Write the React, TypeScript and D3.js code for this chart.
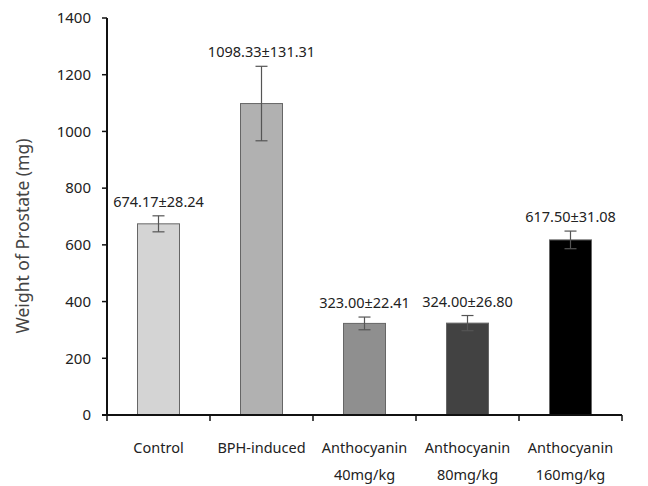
import React from "react";
import * as d3 from "d3";

const categories = ["Control", "BPH-induced", "Anthocyanin\n40mg/kg", "Anthocyanin\n80mg/kg", "Anthocyanin\n160mg/kg"];
const means = [674.17, 1098.33, 323.0, 324.0, 617.5];
const errors = [28.24, 131.31, 22.41, 26.8, 31.08];
const labels = ["674.17±28.24", "1098.33±131.31", "323.00±22.41", "324.00±26.80", "617.50±31.08"];
const fills = ["#d4d4d4", "#b1b1b1", "#8f8f8f", "#424242", "#000000"];
const yTicks = [0, 200, 400, 600, 800, 1000, 1200, 1400];

const W = 648, H = 486;
const left = 107, right = 622, top = 18, bottom = 415;
const font = "'Noto Sans', 'DejaVu Sans', sans-serif";

export default function App() {
  const x = d3.scaleBand<string>().domain(categories).range([left, right]).paddingInner(0).paddingOuter(0);
  const y = d3.scaleLinear().domain([0, 1400]).range([bottom, top]);
  const bw = 42;
  return (
    <svg width={W} height={H} style={{ position: "absolute", left: 0, top: 0, background: "#fff" }} fontFamily={font}>
      {categories.map((c, i) => {
        const cx = x(c)! + x.bandwidth() / 2;
        const yt = y(means[i]);
        const ye1 = y(means[i] + errors[i]);
        const ye2 = y(means[i] - errors[i]);
        return (
          <g key={c}>
            <rect x={cx - bw / 2} y={yt} width={bw} height={bottom - yt} fill={fills[i]} stroke="#666" strokeWidth={1} />
            <line x1={cx} x2={cx} y1={ye1} y2={ye2} stroke="#555" strokeWidth={1.2} />
            <line x1={cx - 6} x2={cx + 6} y1={ye1} y2={ye1} stroke="#555" strokeWidth={1.2} />
            <line x1={cx - 6} x2={cx + 6} y1={ye2} y2={ye2} stroke="#555" strokeWidth={1.2} />
            <text x={cx} y={ye1 - 9} textAnchor="middle" fontSize={14.5} fill="#222">{labels[i]}</text>
            {c.split("\n").map((t, j) => (
              <text key={j} x={cx} y={453 + j * 27} textAnchor="middle" fontSize={14.5} fill="#222">{t}</text>
            ))}
          </g>
        );
      })}
      {/* y axis */}
      <line x1={left} x2={left} y1={top} y2={bottom} stroke="#111" strokeWidth={2} />
      {yTicks.map((t) => (
        <g key={t}>
          <line x1={left - 5} x2={left} y1={y(t)} y2={y(t)} stroke="#111" strokeWidth={1.5} />
          <text x={91} y={y(t)} dy="0.35em" textAnchor="end" fontSize={15} fill="#222">{t}</text>
        </g>
      ))}
      {/* x axis */}
      <line x1={left - 5} x2={right} y1={bottom} y2={bottom} stroke="#111" strokeWidth={2} />
      {categories.map((c) => (
        <line key={c} x1={x(c)!} x2={x(c)!} y1={bottom} y2={bottom + 6} stroke="#111" strokeWidth={1.5} />
      ))}
      <line x1={right} x2={right} y1={bottom} y2={bottom + 6} stroke="#111" strokeWidth={1.5} />
      <text transform={`translate(29,236) rotate(-90)`} textAnchor="middle" fontSize={17.5} fill="#444">
        Weight of Prostate (mg)
      </text>
    </svg>
  );
}
